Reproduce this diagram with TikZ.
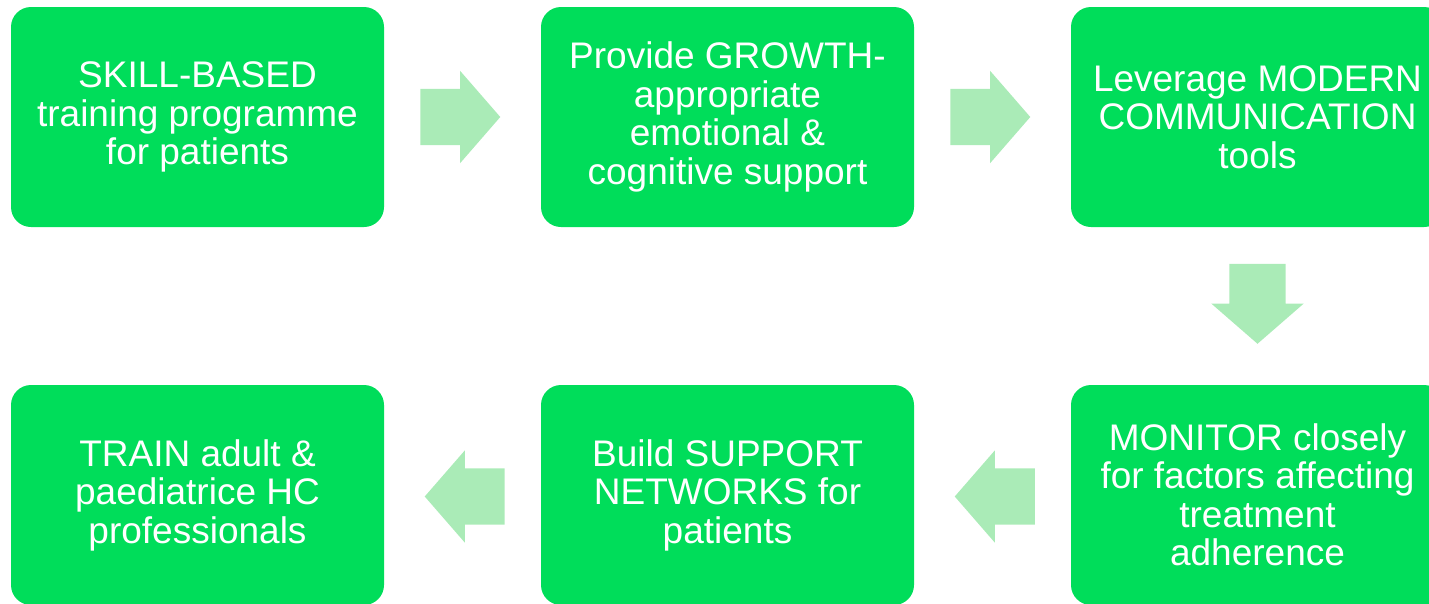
\documentclass[tikz,border=0pt]{standalone}
\usepackage{fontspec}
\setmainfont{Liberation Sans}
\usetikzlibrary{shapes.arrows}
\definecolor{PasoVerde}{RGB}{0,221,90}
\definecolor{FlechaVerde}{RGB}{170,235,183}
\tikzset{%
  paso/.style   ={rectangle, rounded corners=20pt, fill=PasoVerde, text=white,
                  align=center, minimum width=373pt, minimum height=220pt,
                  inner sep=0pt, font=\fontsize{37}{38.5}\selectfont},
  flecha/.style ={single arrow, fill=FlechaVerde, draw=none,
                  minimum height=80pt, minimum width=92pt,
                  inner xsep=0pt, inner ysep=28pt,
                  single arrow head extend=18pt, single arrow tip angle=98}
}

\begin{document}
\begin{tikzpicture}[x=1pt, y=-1pt]
  \useasboundingbox (0,0) rectangle (1429,603);
  \clip (0,0) rectangle (1429,603);
  % fila superior
  \node[paso] (skill) at (197.5,117) {SKILL-BASED\\training programme\\for patients};
  \node[paso] (growth) at (727.5,117) {Provide GROWTH-\\appropriate\\emotional \&\\cognitive support};
  \node[paso] (comm) at (1257.5,117) {Leverage MODERN\\COMMUNICATION\\tools};
  % fila inferior
  \node[paso] (monitor) at (1257.5,495) {MONITOR closely\\for factors affecting\\treatment\\adherence};
  \node[paso] (support) at (727.5,495) {Build SUPPORT\\NETWORKS for\\patients};
  \node[paso] (train) at (197.5,495) {TRAIN adult \&\\paediatrice HC\\professionals};
  % flechas
  \node[flecha] (f1) at (448,117) {};
  \node[flecha] (f2) at (978,117) {};
  \node[flecha, rotate=-90] (f3) at (1257.5,291.5) {};
  \node[flecha, rotate=180] (f4) at (1007,496.5) {};
  \node[flecha, rotate=180] (f5) at (477,496.5) {};
\end{tikzpicture}
\end{document}
